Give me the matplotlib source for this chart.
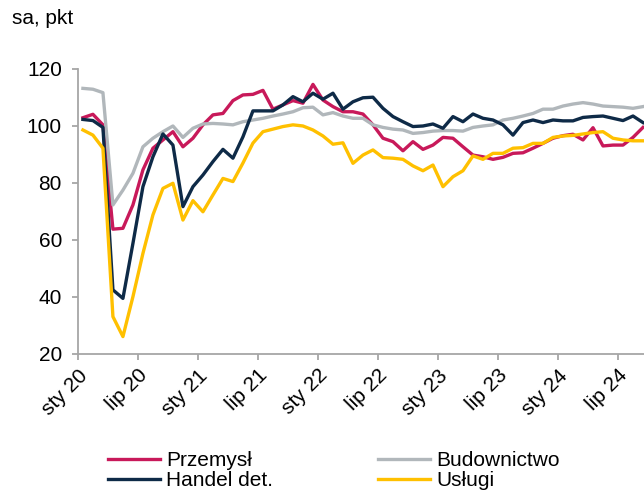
import numpy as np
import matplotlib
matplotlib.use("Agg")
import matplotlib.pyplot as plt

plt.rcParams["font.family"] = ["Liberation Sans", "DejaVu Sans"]

# Monthly sentiment indices, sty 2020 - wrz 2024 (sa, pkt)
przemysl = [102.9, 104.1, 100.4, 63.8, 64.1, 72.3, 84.6, 92.2, 95.1, 98.0,
            92.7, 95.7, 100.4, 103.9, 104.4, 108.9, 110.9, 111.1, 112.5, 105.9,
            107.4, 108.9, 108.0, 114.6, 109.1, 106.8, 105.0, 105.0, 104.2, 100.4,
            95.7, 94.5, 91.3, 94.5, 91.8, 93.3, 96.0, 95.7, 92.7, 89.8,
            89.2, 88.3, 89.0, 90.4, 90.6, 92.2, 93.9, 95.7, 96.6, 97.1,
            95.1, 99.4, 93.0, 93.3, 93.3, 96.0, 99.5]
budownictwo = [113.2, 112.9, 111.7, 72.3, 77.5, 83.4, 92.7, 95.7, 98.0, 100.0,
               96.0, 99.2, 100.7, 100.9, 100.7, 100.4, 101.5, 102.1, 102.7, 103.5,
               104.2, 105.0, 106.4, 106.6, 103.9, 104.7, 103.5, 102.7, 102.7, 100.4,
               99.5, 98.9, 98.6, 97.4, 97.7, 98.2, 98.4, 98.4, 98.2, 99.5,
               100.0, 100.4, 102.1, 102.7, 103.5, 104.4, 105.9, 105.9, 107.0, 107.7,
               108.2, 107.7, 107.0, 106.8, 106.6, 106.2, 106.8]
handel = [102.3, 101.9, 99.5, 42.5, 39.5, 58.8, 78.7, 89.2, 97.2, 93.3,
          71.7, 78.7, 82.8, 87.5, 91.8, 88.7, 96.2, 105.3, 105.3, 105.3,
          107.4, 110.3, 108.5, 111.5, 109.4, 111.5, 105.9, 108.5, 109.9, 110.1,
          106.2, 103.3, 101.5, 99.8, 100.0, 100.7, 99.2, 103.3, 101.5, 104.2,
          102.7, 102.1, 100.4, 96.8, 101.2, 102.1, 101.2, 102.1, 101.8, 101.8,
          103.0, 103.3, 103.5, 102.7, 101.9, 103.5, 101.2]
uslugi = [98.6, 96.8, 92.2, 33.1, 26.1, 40.1, 55.3, 68.8, 78.1, 79.9,
          67.0, 73.8, 69.9, 75.8, 81.6, 80.5, 87.0, 94.0, 98.0, 98.9,
          99.8, 100.4, 100.0, 98.6, 96.5, 93.6, 94.1, 86.9, 89.8, 91.6,
          88.9, 88.7, 88.3, 86.0, 84.3, 86.3, 78.7, 82.2, 84.3, 89.5,
          88.3, 90.4, 90.4, 92.2, 92.4, 93.9, 93.9, 96.0, 96.5, 96.7,
          97.2, 97.7, 98.0, 95.7, 95.1, 94.8, 94.8]

tick_labels = ["sty 20", "lip 20", "sty 21", "lip 21", "sty 22",
               "lip 22", "sty 23", "lip 23", "sty 24", "lip 24"]

RED = "#C8195A"
GREY = "#B1B7BB"
NAVY = "#0E2A47"
GOLD = "#FFC000"
AXIS = "#A6A6A6"
FS = 15

months = np.arange(len(przemysl))

fig = plt.figure(figsize=(6.44, 4.90), dpi=100)
ax = fig.add_axes([0.121, 0.2776, 0.879, 0.5816])

lw = 2.4
l1, = ax.plot(months, przemysl, color=RED, lw=lw, label="Przemysł")
l2, = ax.plot(months, budownictwo, color=GREY, lw=lw, label="Budownictwo")
l3, = ax.plot(months, handel, color=NAVY, lw=lw, label="Handel det.")
l4, = ax.plot(months, uslugi, color=GOLD, lw=lw, label="Usługi")

ax.set_xlim(-0.5, 56.1)
ax.set_ylim(20, 120)
ax.set_yticks(np.arange(20, 121, 20))

# ticks sit on month boundaries, one every half year
ax.set_xticks(np.arange(len(tick_labels)) * 6 - 0.5)
ax.set_xticklabels(tick_labels, rotation=45, ha="right", va="top",
                   rotation_mode="anchor")

for side in ("top", "right"):
    ax.spines[side].set_visible(False)
for side in ("left", "bottom"):
    ax.spines[side].set_color(AXIS)
    ax.spines[side].set_linewidth(1.3)
ax.tick_params(axis="both", colors=AXIS, length=4.5, width=1.3,
               labelcolor="black", labelsize=FS)
ax.tick_params(axis="y", pad=7)
ax.tick_params(axis="x", pad=4)

fig.text(0.018, 0.963, "sa, pkt", fontsize=FS, va="center", ha="left")

fig.legend([l1, l3, l2, l4], ["Przemysł", "Handel det.", "Budownictwo", "Usługi"],
           ncol=2, loc="center left", bbox_to_anchor=(0.151, 0.04),
           frameon=False, fontsize=FS, handlelength=2.5, handletextpad=0.3,
           columnspacing=5.05, labelspacing=0.05, borderpad=0)

fig.savefig("out.png", dpi=100)
